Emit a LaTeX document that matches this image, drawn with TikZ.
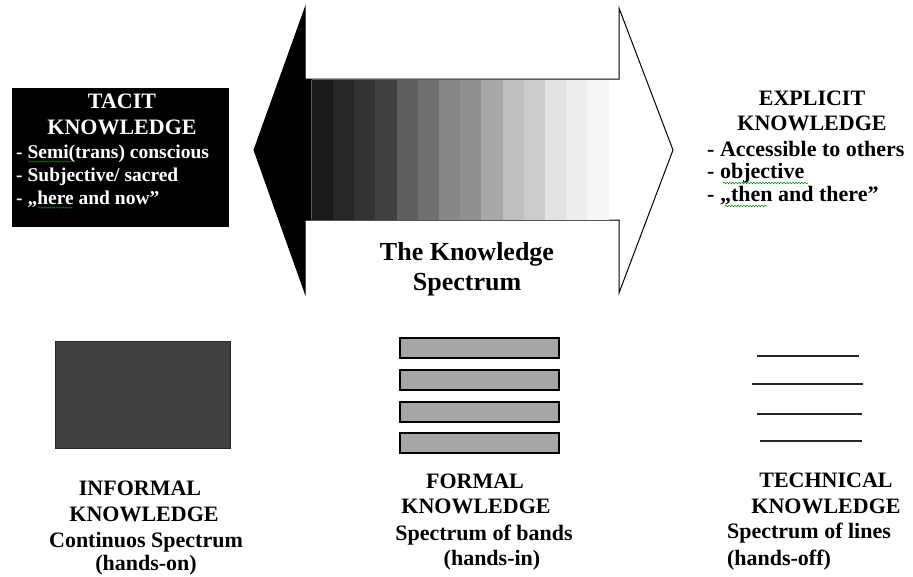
\documentclass[tikz,border=0pt]{standalone}
\usepackage{fontspec}
\setmainfont{Liberation Serif}
\usetikzlibrary{decorations.pathmorphing}

\tikzset{
  txt/.style={font=\bfseries\fontsize{22}{26}\selectfont, inner sep=0pt, anchor=base},
  smalltxt/.style={font=\bfseries\fontsize{19.5}{23}\selectfont, inner sep=0pt, anchor=base west},
  bigtxt/.style={font=\bfseries\fontsize{26}{30}\selectfont, inner sep=0pt, anchor=base},
  band/.style={draw=black, line width=1.3pt, fill=black!35},
  techline/.style={draw=black!85, line width=1.2pt},
  squiggle/.style={draw=green!55!black, line width=0.6pt, decorate,
    decoration={snake, amplitude=0.7pt, segment length=3pt}}
}

\begin{document}
\begin{tikzpicture}[x=1pt, y=-1pt, line join=miter]
\useasboundingbox (0,0) rectangle (913,576);

% the spectrum arrow
\draw[black, line width=1pt, fill=white] (254,150) -- (305,8) -- (305,79) -- (619,79)
  -- (619,8) -- (673,150) -- (619,293) -- (619,220) -- (305,220) -- (305,293) -- cycle;
\foreach \s [count=\i from 0] in {90,85,80,75,63,56,47,44,34,25,20,11,7,3}{
  \fill[black!\s!white] (311.7+21.2*\i,79.5) rectangle (311.7+21.2*\i+21.3,219.5);
}
\fill[black] (254,150) -- (305,8) -- (305,79) -- (311.7,79) -- (311.7,220) -- (305,220) -- (305,293) -- cycle;

\node[bigtxt] (spec1) at (467,260) {The Knowledge};
\node[bigtxt] (spec2) at (467,290) {Spectrum};

% tacit knowledge
\fill[black] (12,88) rectangle (229,227);
\node[txt, text=white] (tac1) at (122,108) {TACIT};
\node[txt, text=white] (tac2) at (122,134) {KNOWLEDGE};
\node[smalltxt, text=white] (tac3) at (16,158) {- Semi(trans) conscious};
\node[smalltxt, text=white] (tac4) at (16,181) {- Subjective/ sacred};
\node[smalltxt, text=white] (tac5) at (16,204) {- „here and now”};
\draw[squiggle] (28,161.5) -- (72,161.5);
\draw[squiggle] (38,207.5) -- (72,207.5);

% explicit knowledge
\node[txt] (exp1) at (812,105) {EXPLICIT};
\node[txt] (exp2) at (812,130) {KNOWLEDGE};
\node[txt, anchor=base west] (exp3) at (707,156) {- Accessible to others};
\node[txt, anchor=base west] (exp4) at (707,178) {- objective};
\node[txt, anchor=base west] (exp5) at (707,201) {- „then and there”};
\draw[squiggle] (723,183) -- (808,183);
\draw[squiggle] (725,206) -- (767,206);

% informal
\fill[black!75, draw=black!85, line width=0.8pt] (55,341) rectangle (230,448);
\node[txt] (inf1) at (140,495) {INFORMAL};
\node[txt] (inf2) at (144,521) {KNOWLEDGE};
\node[txt] (inf3) at (146,547) {Continuos Spectrum};
\node[txt] (inf4) at (146,570) {(hands-on)};

% formal
\foreach \y in {338,370,402,433}{
  \draw[band] (400,\y) rectangle (559,\y+20);
}
\node[txt] (for1) at (475,488) {FORMAL};
\node[txt] (for2) at (476,513) {KNOWLEDGE};
\node[txt] (for3) at (484,540) {Spectrum of bands};
\node[txt] (for4) at (492,565) {(hands-in)};

% technical
\draw[techline] (757,356) -- (859,356);
\draw[techline] (752,384) -- (863,384);
\draw[techline] (757,414) -- (862,414);
\draw[techline] (760,441) -- (862,441);
\node[txt] (tec1) at (826,487) {TECHNICAL};
\node[txt] (tec2) at (826,513) {KNOWLEDGE};
\node[txt] (tec3) at (809,538) {Spectrum of lines};
\node[txt] (tec4) at (779,565) {(hands-off)};
\end{tikzpicture}
\end{document}
